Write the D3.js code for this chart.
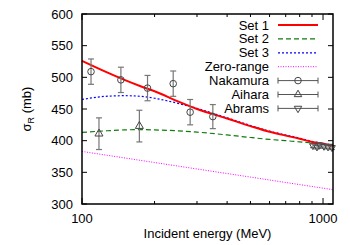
<!DOCTYPE html>
<html>
<head>
<meta charset="utf-8">
<script src="https://cdn.jsdelivr.net/npm/d3@7"></script>
<style>
body { margin: 0; background: #fff; }
text { font-family: "Liberation Sans", Arial, sans-serif; font-size: 13px; fill: #000; }
</style>
</head>
<body>
<svg width="350" height="245"></svg>
<script>
const W = 350, H = 245;
const margin = { left: 82, right: 17, top: 14, bottom: 41 };

// curves (energy MeV, sigma_R mb)
const set1 = [[100, 526], [125, 509], [150, 496], [175, 486], [200, 478], [250, 462], [300, 450], [400, 435], [500, 423], [600, 414], [700, 408], [800, 403], [900, 398], [1000, 395], [1100, 392]];
const set2 = [[100, 413], [125, 415.5], [150, 417], [175, 417.5], [200, 417], [250, 415.5], [300, 413.5], [400, 409], [500, 405], [600, 402], [700, 400], [800, 398], [900, 396.5], [1000, 395], [1100, 394]];
const set3 = [[100, 465], [125, 470], [150, 471], [175, 470], [200, 467], [225, 463], [250, 459], [300, 451], [400, 436], [500, 424], [600, 415], [700, 409], [800, 404], [900, 399], [1000, 396], [1100, 393]];
const zeroRange = [[100, 383], [200, 365.5], [300, 355.3], [500, 342.5], [700, 334], [1000, 325], [1100, 322.6]];

// data points [E, sigma, err]
const nakamura = [[109, 509, 20], [145, 496, 20], [187, 483, 20], [239, 490, 20], [281, 445, 20], [349, 438, 19]];
const aihara = [[117.6, 411, 25], [173, 423, 25]];
const abrams = [[908, 392, 3], [944, 390, 3], [971, 393, 3], [1009, 391, 3], [1049, 390, 3], [1089, 389, 3]];

const yTicks = [300, 350, 400, 450, 500, 550, 600];
const xMajor = [100, 1000];
const xMinor = [200, 300, 400, 500, 600, 700, 800, 900];

const svg = d3.select("svg");

const x = d3.scaleLog().domain([100, 1100]).range([margin.left, W - margin.right]);
const y = d3.scaleLinear().domain([300, 600]).range([H - margin.bottom, margin.top]);

const x0 = x.range()[0], x1 = x.range()[1];
const y0 = y.range()[0], y1 = y.range()[1];

// ticks (inside, mirrored)
const tk = svg.append("g").attr("stroke", "#000").attr("stroke-width", 1);
yTicks.forEach(v => {
    tk.append("line").attr("x1", x0).attr("x2", x0 + 5).attr("y1", y(v)).attr("y2", y(v));
    tk.append("line").attr("x1", x1).attr("x2", x1 - 5).attr("y1", y(v)).attr("y2", y(v));
});
xMajor.forEach(v => {
    tk.append("line").attr("x1", x(v)).attr("x2", x(v)).attr("y1", y0).attr("y2", y0 - 6);
    tk.append("line").attr("x1", x(v)).attr("x2", x(v)).attr("y1", y1).attr("y2", y1 + 6);
});
xMinor.forEach(v => {
    tk.append("line").attr("x1", x(v)).attr("x2", x(v)).attr("y1", y0).attr("y2", y0 - 3);
    tk.append("line").attr("x1", x(v)).attr("x2", x(v)).attr("y1", y1).attr("y2", y1 + 3);
});

// tick labels
svg.append("g").selectAll("text").data(yTicks).join("text")
    .attr("x", x0 - 9).attr("y", d => y(d)).attr("dy", "0.35em")
    .attr("text-anchor", "end").text(d => d);
svg.append("g").selectAll("text").data(xMajor).join("text")
    .attr("x", d => x(d)).attr("y", y0 + 19)
    .attr("text-anchor", "middle").text(d => d);

// axis titles
svg.append("text").attr("x", (x0 + x1) / 2).attr("y", 238)
    .attr("text-anchor", "middle").text("Incident energy (MeV)");
const yl = svg.append("text").attr("transform", `translate(31,${(y0 + y1) / 2}) rotate(-90)`)
    .attr("text-anchor", "middle");
yl.append("tspan").text("σ");
yl.append("tspan").attr("font-size", "9px").attr("dy", 3).text("R");
yl.append("tspan").attr("dy", -3).text(" (mb)");

// curves
const line = d3.line().x(d => x(d[0])).y(d => y(d[1])).curve(d3.curveMonotoneX);
const curves = [
    { name: "Set 1", data: set1, color: "#ff0000", width: 2, dash: null },
    { name: "Set 2", data: set2, color: "#117a11", width: 1.2, dash: "5,3" },
    { name: "Set 3", data: set3, color: "#0000ff", width: 1.2, dash: "2,2" },
    { name: "Zero-range", data: zeroRange, color: "#ff00ff", width: 1, dash: "1,1.5" }
];
const cg = svg.append("g");
curves.slice().reverse().forEach(c => {
    cg.append("path").datum(c.data).attr("d", line)
        .attr("fill", "none").attr("stroke", c.color)
        .attr("stroke-width", c.width).attr("stroke-dasharray", c.dash);
});

// markers
function marker(g, kind, cx, cy, size) {
    if (kind === "circle") {
        g.append("circle").attr("cx", cx).attr("cy", cy).attr("r", 3.3)
            .attr("fill", "none").attr("stroke", "#444").attr("stroke-width", 1);
    } else {
        g.append("path").attr("d", d3.symbol().type(d3.symbolTriangle).size(size)())
            .attr("transform", `translate(${cx},${cy})` + (kind === "down" ? " rotate(180)" : ""))
            .attr("fill", "none").attr("stroke", "#444").attr("stroke-width", 1);
    }
}
const sets = [
    { name: "Nakamura", data: nakamura, kind: "circle", size: 0 },
    { name: "Aihara", data: aihara, kind: "up", size: 28 },
    { name: "Abrams", data: abrams, kind: "down", size: 20 }
];
const pg = svg.append("g");
sets.forEach(s => {
    s.data.forEach(d => {
        const cx = x(d[0]), ya = y(d[1] + d[2]), yb = y(d[1] - d[2]);
        pg.append("line").attr("x1", cx).attr("x2", cx).attr("y1", ya).attr("y2", yb)
            .attr("stroke", "#777").attr("stroke-width", 1.2);
        [ya, yb].forEach(v => pg.append("line").attr("x1", cx - 3).attr("x2", cx + 3)
            .attr("y1", v).attr("y2", v).attr("stroke", "#777").attr("stroke-width", 1.2));
        marker(pg, s.kind, cx, y(d[1]), s.size);
    });
});

// legend
const lg = svg.append("g");
const rows = curves.map(c => ({ name: c.name, curve: c })).concat(sets.map(s => ({ name: s.name, set: s })));
rows.forEach((r, i) => {
    const ly = 25 + i * 13.9;
    lg.append("text").attr("x", 269).attr("y", ly).attr("dy", "0.35em")
        .attr("text-anchor", "end").text(r.name);
    if (r.curve) {
        lg.append("line").attr("x1", 278).attr("x2", 318).attr("y1", ly).attr("y2", ly)
            .attr("stroke", r.curve.color).attr("stroke-width", r.curve.width)
            .attr("stroke-dasharray", r.curve.dash);
    } else {
        lg.append("line").attr("x1", 278).attr("x2", 318).attr("y1", ly).attr("y2", ly)
            .attr("stroke", "#555").attr("stroke-width", 1);
        [278, 318].forEach(v => lg.append("line").attr("x1", v).attr("x2", v)
            .attr("y1", ly - 3).attr("y2", ly + 3).attr("stroke", "#555").attr("stroke-width", 1));
        marker(lg, r.set.kind, 298, ly, 24);
    }
});

// frame
svg.append("rect").attr("x", x0).attr("y", y1).attr("width", x1 - x0).attr("height", y0 - y1)
    .attr("fill", "none").attr("stroke", "#000").attr("stroke-width", 1.5);
</script>
</body>
</html>
